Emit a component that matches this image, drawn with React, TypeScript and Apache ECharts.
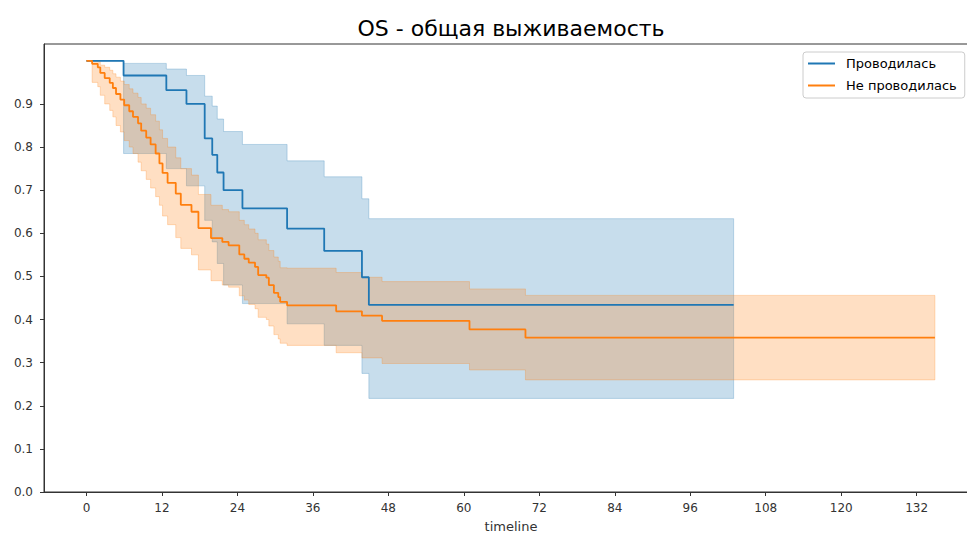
import React, { useEffect, useRef } from "react";
import * as echarts from "echarts";

// ---- Group "Проводилась" (blue) ----
const blueTimes = [0, 5.9, 12.7, 15.9, 18.8, 20.0, 20.8, 21.8, 24.8, 31.9, 37.8, 43.8, 44.9];
const blueEnd = 102.9;
const blueSurv = [1.0, 0.966, 0.932, 0.9, 0.82, 0.782, 0.741, 0.7, 0.658, 0.611, 0.559, 0.498, 0.434];
const blueUpper = [1.0, 0.994, 0.981, 0.966, 0.918, 0.895, 0.865, 0.836, 0.806, 0.768, 0.731, 0.68, 0.634];
const blueLower = [1.0, 0.785, 0.75, 0.71, 0.63, 0.58, 0.53, 0.48, 0.437, 0.39, 0.34, 0.275, 0.217];

// ---- Group "Не проводилась" (orange) ----
const orangeTimes = [
  0, 0.9, 1.8, 2.2, 2.9, 3.7, 4.2, 4.7, 5.4, 6.0, 6.8, 7.4, 8.2, 8.7, 9.5, 10.2, 11.0, 11.6, 12.1,
  12.9, 14.2, 15.0, 16.7, 17.8, 19.8, 21.6, 22.6, 24.3, 25.1, 25.8, 26.8, 27.3, 28.6, 29.0, 29.8,
  30.5, 30.8, 31.9, 39.7, 43.8, 47.0, 60.9, 69.8,
];
const orangeEnd = 134.9;
const orangeSurv = [
  1.0, 0.993, 0.985, 0.972, 0.96, 0.949, 0.937, 0.923, 0.91, 0.897, 0.883, 0.87, 0.855, 0.838, 0.822,
  0.806, 0.785, 0.762, 0.74, 0.717, 0.692, 0.666, 0.65, 0.612, 0.589, 0.58, 0.572, 0.551, 0.541, 0.532,
  0.522, 0.503, 0.497, 0.48, 0.462, 0.452, 0.441, 0.433, 0.419, 0.409, 0.397, 0.377, 0.358,
];
const orangeUpper = [
  1.0, 1.0, 0.998, 0.99, 0.985, 0.978, 0.97, 0.962, 0.953, 0.945, 0.935, 0.925, 0.915, 0.9, 0.89,
  0.875, 0.86, 0.84, 0.82, 0.8, 0.775, 0.75, 0.735, 0.69, 0.665, 0.655, 0.65, 0.63, 0.62, 0.61,
  0.6, 0.585, 0.575, 0.56, 0.545, 0.535, 0.52, 0.519, 0.509, 0.498, 0.488, 0.471, 0.456,
];
const orangeLower = [
  1.0, 0.95, 0.94, 0.92, 0.9, 0.885, 0.87, 0.85, 0.835, 0.815, 0.8, 0.785, 0.765, 0.745, 0.725,
  0.705, 0.685, 0.665, 0.64, 0.62, 0.59, 0.565, 0.55, 0.515, 0.49, 0.48, 0.475, 0.455, 0.445, 0.435,
  0.425, 0.405, 0.4, 0.385, 0.365, 0.355, 0.345, 0.34, 0.323, 0.311, 0.298, 0.283, 0.26,
];

const xTicks = [0, 12, 24, 36, 48, 60, 72, 84, 96, 108, 120, 132];
const yTicks = [0, 0.1, 0.2, 0.3, 0.4, 0.5, 0.6, 0.7, 0.8, 0.9];

const seriesNames = ["Проводилась", "Не проводилась"];
const titleText = "OS - общая выживаемость";
const xName = "timeline";

const BLUE = "#1f77b4";
const ORANGE = "#ff7f0e";
const FONT = "DejaVu Sans";

function linePoints(times: number[], surv: number[], end: number) {
  const pts = times.map((t, i) => [t, surv[i]]);
  pts.push([end, surv[surv.length - 1]]);
  return pts;
}

function bandSeries(times: number[], end: number, lower: number[], upper: number[], fill: string) {
  return {
    type: "custom",
    silent: true,
    z: 1,
    data: [[times[0], upper[0]]],
    renderItem: (_params: any, api: any) => {
      const pts: number[][] = [];
      for (let i = 0; i < times.length; i++) {
        const t1 = i + 1 < times.length ? times[i + 1] : end;
        pts.push(api.coord([times[i], upper[i]]));
        pts.push(api.coord([t1, upper[i]]));
      }
      for (let i = times.length - 1; i >= 0; i--) {
        const t1 = i + 1 < times.length ? times[i + 1] : end;
        pts.push(api.coord([t1, lower[i]]));
        pts.push(api.coord([times[i], lower[i]]));
      }
      return {
        type: "polygon",
        shape: { points: pts },
        style: { fill, stroke: fill, lineWidth: 1 },
      };
    },
  };
}

export default function App() {
  const ref = useRef<HTMLDivElement>(null);

  useEffect(() => {
    document.body.style.margin = "0";
    document.body.style.overflow = "hidden";
    if (!ref.current) return;
    const chart = echarts.init(ref.current, null, { renderer: "svg" });
    chart.setOption({
      animation: false,
      backgroundColor: "#ffffff",
      textStyle: { fontFamily: FONT },
      graphic: [
        {
          type: "text",
          x: 511,
          y: 28,
          style: {
            text: titleText,
            font: `22px "${FONT}"`,
            fill: "#000000",
            textAlign: "center",
            textVerticalAlign: "middle",
          },
        },
      ],
      legend: {
        data: seriesNames,
        orient: "vertical",
        left: 803,
        top: 52,
        icon: "rect",
        itemWidth: 27,
        itemHeight: 2,
        itemGap: 9,
        padding: [5, 8, 6, 5],
        borderColor: "#cccccc",
        borderWidth: 1,
        borderRadius: 3,
        backgroundColor: "rgba(255,255,255,0.8)",
        textStyle: { fontFamily: FONT, fontSize: 13, color: "#000", padding: [0, 0, 0, 6] },
      },
      grid: {
        left: 44,
        right: 2,
        top: 44,
        bottom: 35,
        show: true,
        borderColor: "#333333",
        borderWidth: 1,
        backgroundColor: "transparent",
      },
      xAxis: {
        type: "value",
        min: -6.75,
        max: 141.75,
        name: xName,
        nameLocation: "middle",
        nameGap: 28,
        nameTextStyle: { fontFamily: FONT, fontSize: 13, color: "#333" },
        axisLine: { show: true, onZero: false, lineStyle: { color: "#333", width: 1 } },
        axisTick: { show: true, length: 4, customValues: xTicks, lineStyle: { color: "#333" } },
        axisLabel: {
          customValues: xTicks,
          fontFamily: FONT,
          fontSize: 12,
          color: "#333",
          margin: 10,
        },
        splitLine: { show: false },
      },
      yAxis: {
        type: "value",
        min: 0,
        max: 1.039,
        axisLine: { show: true, onZero: false, lineStyle: { color: "#333", width: 1 } },
        axisTick: { show: true, length: 4, customValues: yTicks, lineStyle: { color: "#333" } },
        axisLabel: {
          customValues: yTicks,
          formatter: (v: number) => v.toFixed(1),
          fontFamily: FONT,
          fontSize: 12,
          color: "#333",
          margin: 11,
        },
        splitLine: { show: false },
      },
      series: [
        bandSeries(blueTimes, blueEnd, blueLower, blueUpper, "rgba(31,119,180,0.25)"),
        bandSeries(orangeTimes, orangeEnd, orangeLower, orangeUpper, "rgba(255,127,14,0.25)"),
        {
          name: seriesNames[0],
          type: "line",
          step: "end",
          z: 3,
          showSymbol: false,
          data: linePoints(blueTimes, blueSurv, blueEnd),
          lineStyle: { color: BLUE, width: 1.8 },
          itemStyle: { color: BLUE },
        },
        {
          name: seriesNames[1],
          type: "line",
          step: "end",
          z: 3,
          showSymbol: false,
          data: linePoints(orangeTimes, orangeSurv, orangeEnd),
          lineStyle: { color: ORANGE, width: 1.8 },
          itemStyle: { color: ORANGE },
        },
      ],
    });
    return () => chart.dispose();
  }, []);

  return <div ref={ref} style={{ width: 980, height: 538 }} />;
}
